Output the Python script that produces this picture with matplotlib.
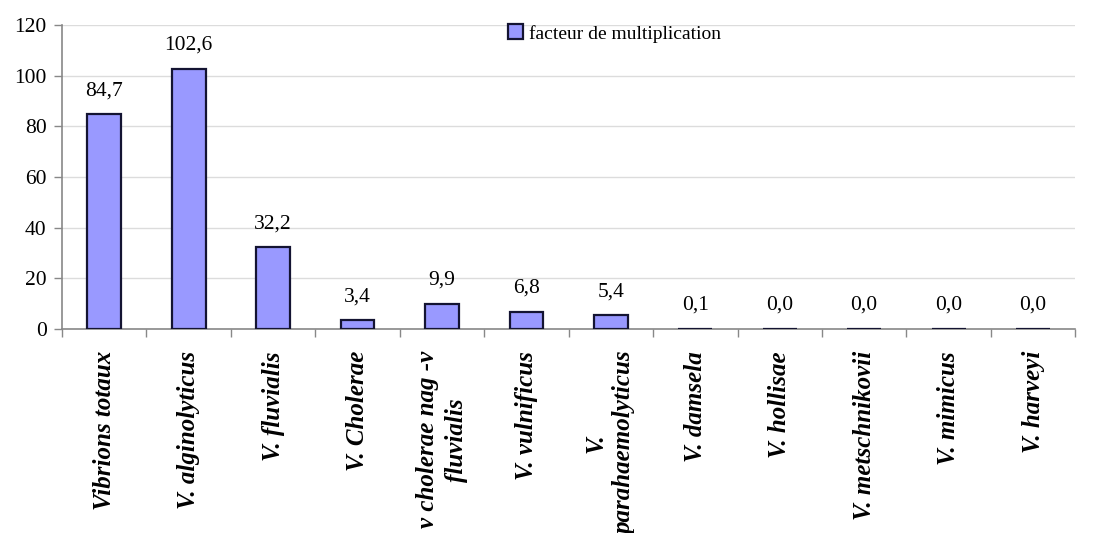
import matplotlib
matplotlib.use("Agg")
import matplotlib.pyplot as plt
from matplotlib.patches import Patch

categories = [
    "Vibrions totaux", "V. alginolyticus", "V. fluvialis", "V. Cholerae",
    "v cholerae nag -v\nfluvialis", "V. vulnificus", "V.\nparahaemolyticus",
    "V. damsela", "V. hollisae", "V. metschnikovii", "V. mimicus", "V. harveyi",
]
values = [84.7, 102.6, 32.2, 3.4, 9.9, 6.8, 5.4, 0.1, 0.0, 0.0, 0.0, 0.0]
y_ticks = [0, 20, 40, 60, 80, 100, 120]
series_name = "facteur de multiplication"

plt.rcParams["font.family"] = ["Liberation Serif", "DejaVu Serif"]

fig = plt.figure(figsize=(10.95, 5.33), dpi=100)
ax = fig.add_axes([0.0566, 0.383, 0.9254, 0.570])

x = list(range(len(categories)))
bars = ax.bar(x, values, width=0.4, color="#9999FF", edgecolor="#141432",
              linewidth=1.6, zorder=3)

for xi, v in zip(x, values):
    ax.annotate(f"{v:.1f}".replace(".", ","), (xi, v), xytext=(0, 17),
                textcoords="offset points", ha="center", va="center",
                fontsize=15.5, color="black")

ax.set_xlim(-0.5, len(categories) - 0.5)
ax.set_ylim(0, 120)
ax.set_yticks(y_ticks)
ax.set_yticklabels([str(t) for t in y_ticks], fontsize=15.5)
ax.yaxis.grid(True, color="#dcdcdc", linewidth=1.0, zorder=0)
ax.set_axisbelow(True)

# category labels at centres, tick marks at category boundaries
ax.set_xticks(x)
ax.set_xticklabels(categories, rotation=90, fontsize=18, fontweight="bold",
                   fontstyle="italic", multialignment="center",
                   linespacing=1.35)
ax.tick_params(axis="x", length=0, pad=16)
ax.set_xticks([i - 0.5 for i in range(len(categories) + 1)], minor=True)
ax.tick_params(axis="x", which="minor", length=6, color="#888888", width=1)
ax.tick_params(axis="y", length=6, color="#888888", width=1, pad=5)

for side in ("top", "right"):
    ax.spines[side].set_visible(False)
for side in ("left", "bottom"):
    ax.spines[side].set_color("#888888")
    ax.spines[side].set_linewidth(1.2)

handle = Patch(facecolor="#9999FF", edgecolor="#141432", linewidth=1.6)
ax.legend([handle], [series_name], loc="center left",
          bbox_to_anchor=(0.440, 0.972), frameon=False, fontsize=14,
          handlelength=0.8, handleheight=0.8, handletextpad=0.3,
          borderpad=0.0, borderaxespad=0.0)

fig.savefig("out.png", dpi=100, facecolor="white")
